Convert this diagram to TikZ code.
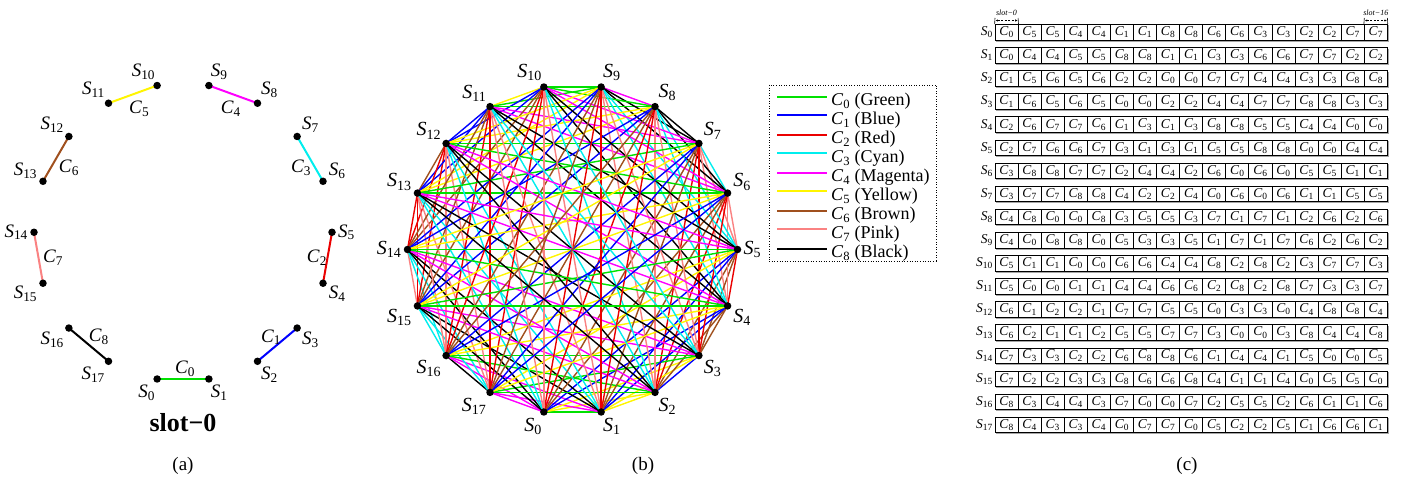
\documentclass[tikz,border=0pt]{standalone}
\usepackage{fontspec}
\setmainfont{Liberation Serif}
\usetikzlibrary{arrows.meta}
\pgfdeclarelayer{bg}
\pgfsetlayers{bg,main}
\definecolor{cGreen}{RGB}{0,225,0}
\definecolor{cBlue}{RGB}{0,0,255}
\definecolor{cRed}{RGB}{235,0,0}
\definecolor{cCyan}{RGB}{0,238,238}
\definecolor{cMagenta}{RGB}{255,0,255}
\definecolor{cYellow}{RGB}{255,245,0}
\definecolor{cBrown}{RGB}{160,80,30}
\definecolor{cPink}{RGB}{250,130,130}
\definecolor{cBlack}{RGB}{0,0,0}
\def\cname#1{\ifcase#1 cGreen\or cBlue\or cRed\or cCyan\or cMagenta\or cYellow\or cBrown\or cPink\or cBlack\fi}
\newcommand\symb[2]{\textit{#1}\textsubscript{#2}}
\newcommand\fs[1]{\fontsize{#1}{#1}\selectfont}
\def\tabrows{%
{0,5,5,4,4,1,1,8,8,6,6,3,3,2,2,7,7},%
{0,4,4,5,5,8,8,1,1,3,3,6,6,7,7,2,2},%
{1,5,6,5,6,2,2,0,0,7,7,4,4,3,3,8,8},%
{1,6,5,6,5,0,0,2,2,4,4,7,7,8,8,3,3},%
{2,6,7,7,6,1,3,1,3,8,8,5,5,4,4,0,0},%
{2,7,6,6,7,3,1,3,1,5,5,8,8,0,0,4,4},%
{3,8,8,7,7,2,4,4,2,6,0,6,0,5,5,1,1},%
{3,7,7,8,8,4,2,2,4,0,6,0,6,1,1,5,5},%
{4,8,0,0,8,3,5,5,3,7,1,7,1,2,6,2,6},%
{4,0,8,8,0,5,3,3,5,1,7,1,7,6,2,6,2},%
{5,1,1,0,0,6,6,4,4,8,2,8,2,3,7,7,3},%
{5,0,0,1,1,4,4,6,6,2,8,2,8,7,3,3,7},%
{6,1,2,2,1,7,7,5,5,0,3,3,0,4,8,8,4},%
{6,2,1,1,2,5,5,7,7,3,0,0,3,8,4,4,8},%
{7,3,3,2,2,6,8,8,6,1,4,4,1,5,0,0,5},%
{7,2,2,3,3,8,6,6,8,4,1,1,4,0,5,5,0},%
{8,3,4,4,3,7,0,0,7,2,5,5,2,6,1,1,6},%
{8,4,3,3,4,0,7,7,0,5,2,2,5,1,6,6,1}}
\foreach \r [count=\i from 0] in \tabrows {%
  \foreach \c [count=\t from 0] in \r {%
    \expandafter\xdef\csname T-\i-\t\endcsname{\c}%
  }%
}
\tikzset{
  dot/.style={circle,fill=black,inner sep=0pt,minimum size=7.5pt},
  lblA/.style={font=\fs{19},inner sep=1pt},
  lblB/.style={font=\fs{20},inner sep=1pt},
  edgeA/.style={line width=2pt},
  edgeB/.style={line width=1.4pt},
  cell/.style={draw,line width=0.8pt,minimum width=23.08pt,minimum height=15.5pt,inner sep=0pt,font=\fs{13.5}},
  rowlab/.style={anchor=east,inner sep=0pt,font=\fs{13.5}},
  slotlab/.style={inner sep=0pt,font=\fs{8}\itshape},
  legtext/.style={inner sep=0pt,font=\fs{18},anchor=base west},
  caption/.style={font=\fs{19}}
}
\begin{document}
\begin{tikzpicture}[x=1pt,y=-1pt]
\useasboundingbox (0,0) rectangle (1405,481);
\begin{pgfonlayer}{bg}
\fill[white] (0,0) rectangle (1405,481);
\end{pgfonlayer}
% ---------------- panel (a) ----------------
\foreach \k in {0,...,17} {
  \pgfmathsetmacro\a{260+20*\k}
  \node[dot,label={[lblA,label distance=1pt]\a:\symb{S}{\k}}] (a\k) at ({183+149*cos(\a)},{232.26-149*sin(\a)}) {};
}
\begin{pgfonlayer}{bg}
\foreach \k in {0,...,8} {
  \pgfmathtruncatemacro\p{2*\k}
  \pgfmathtruncatemacro\q{2*\k+1}
  \edef\cc{\cname{\k}}
  \draw[edgeA,draw=\cc] (a\p.center) -- (a\q.center);
}
\end{pgfonlayer}
\foreach \k in {0,...,8} {
  \pgfmathsetmacro\m{270+40*\k}
  \node[lblA] (ca\k) at ({185+134*cos(\m)},{234.5-134*sin(\m)}) {\symb{C}{\k}};
}
\node[font=\fs{26}\bfseries] (slotzero) at (183,423) {slot−0};
\node[caption] (capa) at (183,466) {(a)};
% ---------------- panel (b) ----------------
\foreach \k in {0,...,17} {
  \pgfmathsetmacro\a{260+20*\k}
  \node[dot,label={[lblB,label distance=1pt]\a:\symb{S}{\k}}] (b\k) at ({572.5+165*cos(\a)},{249.5-165*sin(\a)}) {};
}
\begin{pgfonlayer}{bg}
\foreach \t in {0,...,16} {
  \foreach \i in {0,...,16} {
    \pgfmathtruncatemacro\ii{\i+1}
    \foreach \j in {\ii,...,17} {
      \ifnum\csname T-\i-\t\endcsname=\csname T-\j-\t\endcsname\relax
        \edef\cc{\cname{\csname T-\i-\t\endcsname}}%
        \draw[edgeB,draw=\cc] (b\i.center) -- (b\j.center);
      \fi
    }
  }
}
\end{pgfonlayer}
\node[caption] (capb) at (643,466) {(b)};
% legend
\draw[dotted,line width=0.6pt] (769,85) rectangle (936.7,261.7);
\foreach \k/\nm/\ly in {0/Green/97,1/Blue/115,2/Red/135,3/Cyan/153,4/Magenta/173,5/Yellow/191,6/Brown/211,7/Pink/229,8/Black/249} {
  \pgfmathsetmacro\yy{106+18.96*\k}
  \edef\cc{\cname{\k}}
  \coordinate (ls\k) at (777,\ly);
  \coordinate (le\k) at (827,\ly);
  \draw[draw=\cc,line width=2pt] (ls\k) -- (le\k);
  \node[legtext] (lg\k) at (831,\yy) {\symb{C}{\k} (\nm)};
}
% ---------------- panel (c) ----------------
\foreach \i in {0,...,17} {
  \pgfmathsetmacro\yy{24.5+23.1*\i}
  \draw[black!35,line width=1pt] (996,\yy+16.6) -- (1388.4,\yy+16.6) -- (1388.4,\yy+1);
  \node[rowlab] (r\i) at (993,\yy+7.75) {\symb{S}{\i}};
  \foreach \t in {0,...,16} {
    \pgfmathsetmacro\xx{995+23.08*\t}
    \node[cell] (c-\i-\t) at (\xx+11.54,\yy+7.75) {\symb{C}{\csname T-\i-\t\endcsname}};
  }
}
% slot markers
\coordinate (t0a) at (995,18);
\coordinate (t0b) at (1018.08,18);
\draw[line width=0.6pt] (t0a) -- (c-0-0.north west);
\draw[line width=0.6pt] (t0b) -- (c-0-0.north east);
\coordinate (d0a) at (995.4,20.5);
\coordinate (d0b) at (1017.7,20.5);
\draw[line width=0.6pt,dash pattern=on 2pt off 1.5pt,{Latex[length=2.5pt,width=2.2pt]}-{Latex[length=2.5pt,width=2.2pt]}] (d0a) -- (d0b);
\node[slotlab] (sl0) at (1006.5,13) {slot−0};
\coordinate (t16a) at (1364.3,18);
\coordinate (t16b) at (1387.4,18);
\draw[line width=0.6pt] (t16a) -- (c-0-16.north west);
\draw[line width=0.6pt] (t16b) -- (c-0-16.north east);
\coordinate (d16a) at (1364.7,20.5);
\coordinate (d16b) at (1387.0,20.5);
\draw[line width=0.6pt,dash pattern=on 2pt off 1.5pt,{Latex[length=2.5pt,width=2.2pt]}-{Latex[length=2.5pt,width=2.2pt]}] (d16a) -- (d16b);
\node[slotlab] (sl16) at (1375.8,13) {slot−16};
\node[caption] (capc) at (1187,466) {(c)};
\end{tikzpicture}
\end{document}
